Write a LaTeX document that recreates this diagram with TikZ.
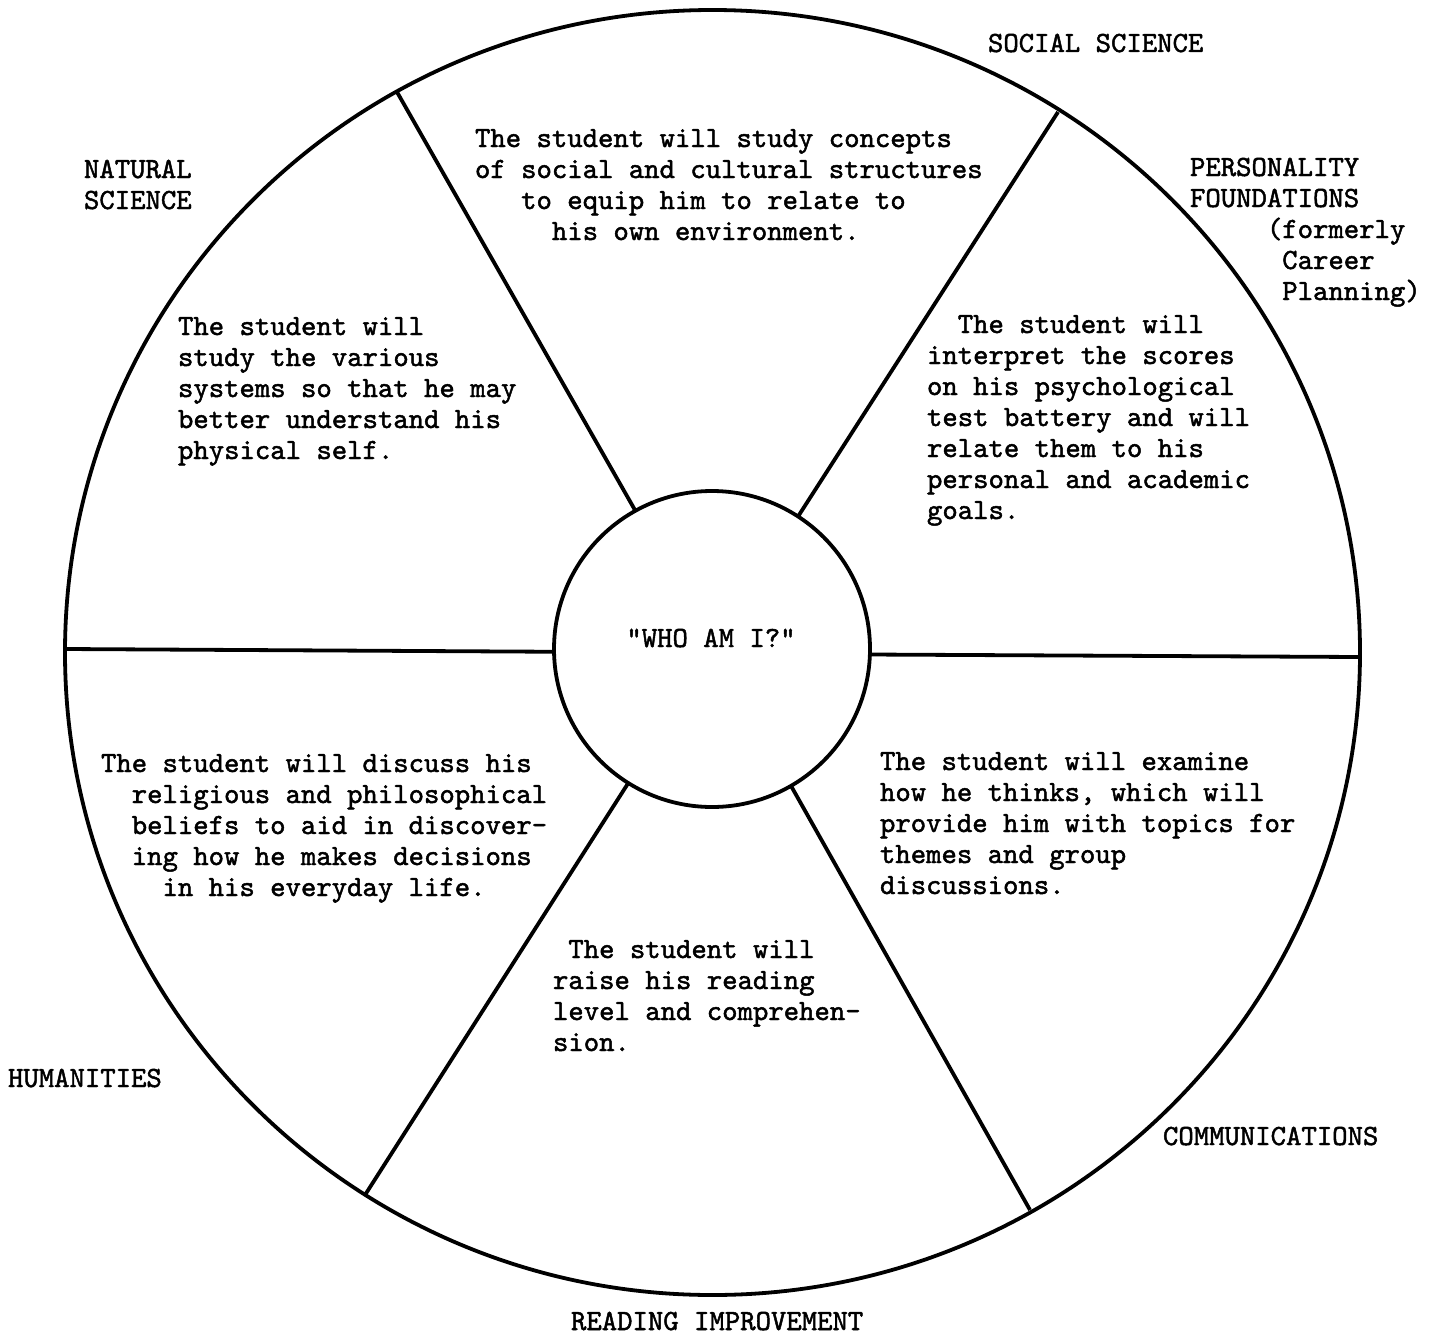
\documentclass[tikz,border=0pt]{standalone}
\usepackage{fontspec}
\newfontfamily\twf{lmmono10-regular.otf}[FakeBold=1.6]
\usetikzlibrary{shapes.geometric}
\newcommand\ind[1]{\hspace*{#1\fontcharwd\font`\M}}
\newcommand\blk[1]{\begin{tabular}[t]{@{}l@{}}#1\end{tabular}}
\begin{document}
\begin{tikzpicture}[x=1pt,y=-1pt,
  txt/.style={font=\twf\fontsize{29.3}{31}\selectfont, inner sep=0pt, outer sep=0pt, anchor=base west},
  ring/.style={draw, line width=3.8pt, inner sep=0pt, outer sep=0pt},
  spoke/.style={line width=3.8pt}]
\useasboundingbox (0,0) rectangle (1429,1335);
\fill[white] (0,0) rectangle (1429,1335);
% wheel
\node[ring, ellipse, minimum width=1295pt, minimum height=1285pt] (rim) at (712.5,652.5) {};
\node[ring, circle, minimum size=316pt] (hub) at (712,649) {};
% outer ends of the spokes (on the rim)
\coordinate (o1) at (397,92);
\coordinate (o2) at (1058,112);
\coordinate (o3) at (1360,657);
\coordinate (o4) at (1030,1210);
\coordinate (o5) at (365,1195);
\coordinate (o6) at (65,649);
% spokes
\draw[spoke] (hub.119.6) -- (o1);
\draw[spoke] (hub.57.6) -- (o2);
\draw[spoke] (hub.-2.2) -- (o3);
\draw[spoke] (hub.-60.1) -- (o4);
\draw[spoke] (hub.-122.6) -- (o5);
\draw[spoke] (hub.181.1) -- (o6);
% centre
\node[txt, anchor=base] (who) at (711,647) {"WHO AM I?"};
% segment texts
\node[txt] (soc) at (475,147) {\blk{The student will study concepts\\
of social and cultural structures\\
\ind{3}to equip him to relate to\\
\ind{5}his own environment.}};
\node[txt] (nat) at (178,335) {\blk{The student will\\
study the various\\
systems so that he may\\
better understand his\\
physical self.}};
\node[txt] (per) at (927,333) {\blk{\ind{2}The student will\\
interpret the scores\\
on his psychological\\
test battery and will\\
relate them to his\\
personal and academic\\
goals.}};
\node[txt] (hum) at (101,772) {\blk{The student will discuss his\\
\ind{2}religious and philosophical\\
\ind{2}beliefs to aid in discover-\\
\ind{2}ing how he makes decisions\\
\ind{4}in his everyday life.}};
\node[txt] (rea) at (553,958) {\blk{\ind{1}The student will\\
raise his reading\\
level and comprehen-\\
sion.}};
\node[txt] (com) at (880,770) {\blk{The student will examine\\
how he thinks, which will\\
provide him with topics for\\
themes and group\\
discussions.}};
% area labels
\node[txt] (lsoc) at (988,52) {SOCIAL SCIENCE};
\node[txt] (lnat) at (84,178) {\blk{NATURAL\\SCIENCE}};
\node[txt] (lper) at (1190,176) {\blk{PERSONALITY\\
FOUNDATIONS\\
\ind{5}(formerly\\
\ind{6}Career\\
\ind{6}Planning)}};
\node[txt] (lhum) at (8,1087) {HUMANITIES};
\node[txt] (lcom) at (1163,1145) {COMMUNICATIONS};
\node[txt] (lrea) at (571,1330) {READING IMPROVEMENT};
\end{tikzpicture}
\end{document}
